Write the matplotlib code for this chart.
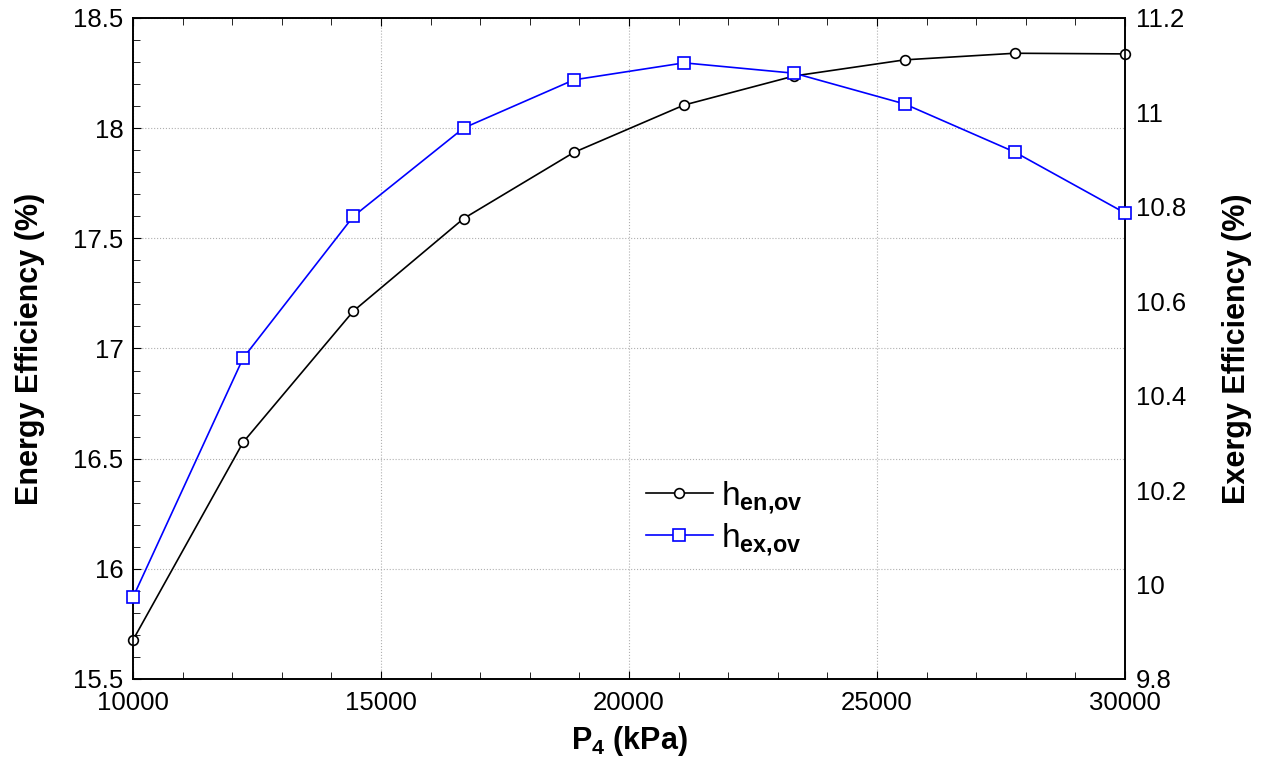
import matplotlib
matplotlib.use("Agg")
import matplotlib.pyplot as plt
from matplotlib.ticker import MultipleLocator, FormatStrFormatter

plt.rcParams["font.family"] = ["Liberation Sans", "DejaVu Sans"]
plt.rcParams["mathtext.fontset"] = "custom"
plt.rcParams["mathtext.rm"] = "Liberation Sans"
plt.rcParams["mathtext.bf"] = "Liberation Sans:bold"
plt.rcParams["mathtext.it"] = "Liberation Sans:italic"

# data
p4 = [10000, 12222, 14444, 16667, 18889, 21111, 23333, 25556, 27778, 30000]
energy_eff = [15.677, 16.575, 17.17, 17.59, 17.89, 18.105, 18.237, 18.31, 18.34, 18.337]
exergy_eff = [9.973, 10.48, 10.78, 10.967, 11.069, 11.105, 11.083, 11.018, 10.916, 10.787]

fig = plt.figure(figsize=(12.66, 7.63), dpi=100)
ax = fig.add_axes([133 / 1266, 1 - 679 / 763, (1125 - 133) / 1266, (679 - 18) / 763])
ax2 = ax.twinx()

l1, = ax.plot(p4, energy_eff, color="black", lw=1.2, marker="o", ms=7,
              mfc="white", mec="black", mew=1.2, label=r"$\mathrm{h}_{\mathbf{en{,}ov}}$",
              clip_on=False, zorder=3)
l2, = ax2.plot(p4, exergy_eff, color="blue", lw=1.2, marker="s", ms=8,
               mfc="white", mec="blue", mew=1.2, label=r"$\mathrm{h}_{\mathbf{ex{,}ov}}$",
               clip_on=False, zorder=3)

ax.set_xlim(10000, 30000)
ax.set_ylim(15.5, 18.5)
ax2.set_ylim(9.8, 11.2)

ax.xaxis.set_major_locator(MultipleLocator(5000))
ax.xaxis.set_minor_locator(MultipleLocator(1000))
ax.yaxis.set_major_locator(MultipleLocator(0.5))
ax.yaxis.set_minor_locator(MultipleLocator(0.1))
ax.yaxis.set_major_formatter(FormatStrFormatter("%g"))
ax2.yaxis.set_major_locator(MultipleLocator(0.2))
ax2.yaxis.set_major_formatter(FormatStrFormatter("%g"))

ax.tick_params(axis="both", which="both", direction="in", top=True, labelsize=18.5)
ax.tick_params(which="major", length=6)
ax.tick_params(which="minor", length=5)
ax.tick_params(axis="x", pad=9)
ax.tick_params(axis="y", pad=7)
ax2.tick_params(axis="y", which="both", direction="in", labelsize=18.5, length=0, pad=8)

ax.grid(True, which="major", color="#b0b0b0", ls=":", lw=0.8)
for a in (ax, ax2):
    for s in a.spines.values():
        s.set_linewidth(1.2)

ax.set_xlabel(r"P$_\mathbf{4}$ (kPa)", fontsize=22, fontweight="bold", labelpad=6)
ax.set_ylabel("Energy Efficiency (%)", fontsize=22, fontweight="bold", labelpad=20)
ax2.set_ylabel("Exergy Efficiency (%)", fontsize=22, fontweight="bold", labelpad=26)

ax.legend(handles=[l1, l2], loc="upper left", bbox_to_anchor=(0.487, 0.348),
          frameon=False, fontsize=24, handlelength=2.0, handletextpad=0.25,
          labelspacing=0.15)

fig.savefig("out.png", dpi=100)
